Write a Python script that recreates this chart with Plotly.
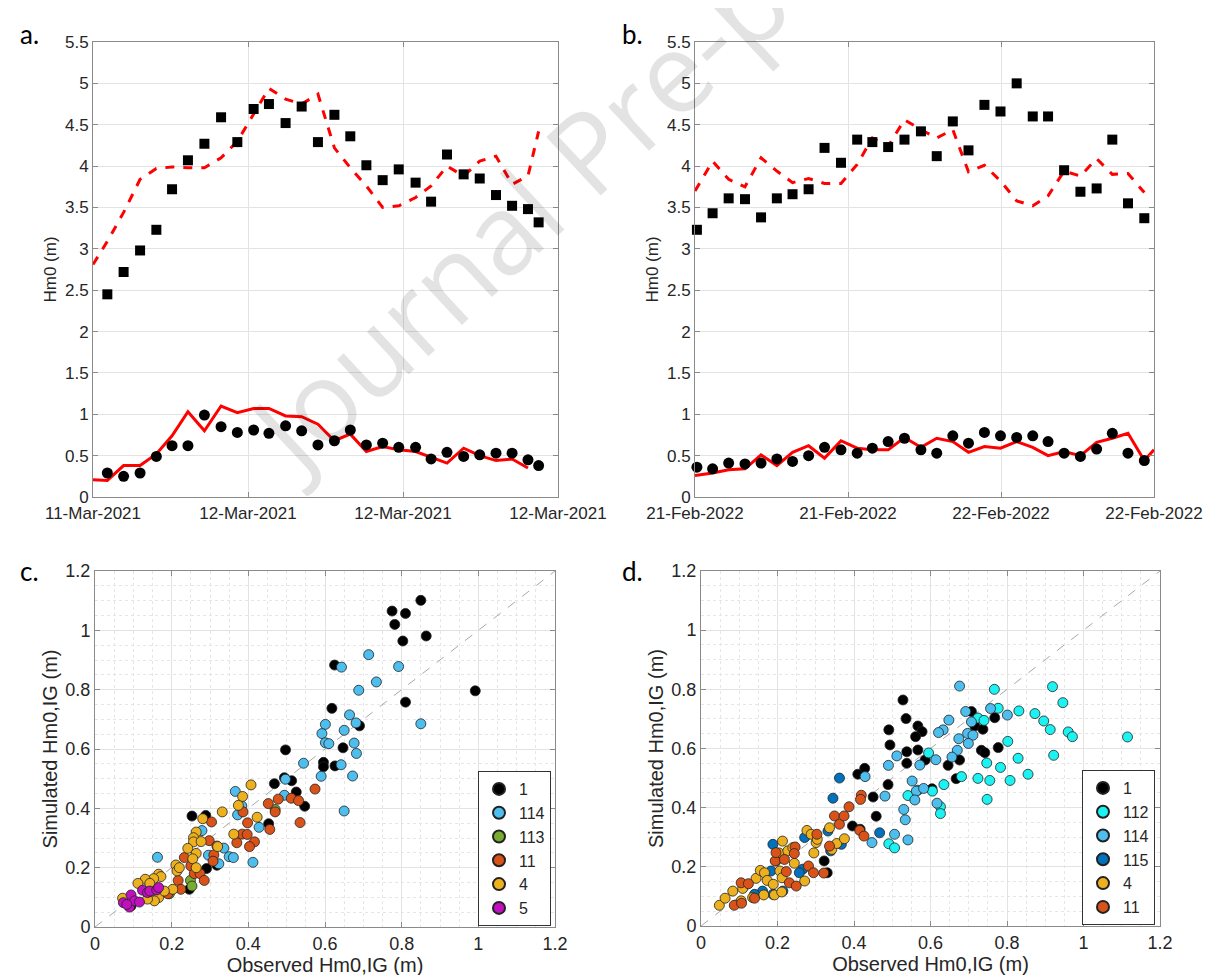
import plotly.graph_objects as go

# ---------------- Panel a (11/12-Mar-2021), hours since 11-Mar-2021 16:00 ----------------
a_tick_vals = [0, 8, 16, 24]
a_tick_text = ["11-Mar-2021", "12-Mar-2021", "12-Mar-2021", "12-Mar-2021"]
a_obs_t = [0.74, 1.58, 2.43, 3.27, 4.08, 4.90, 5.75, 6.61, 7.45, 8.29, 9.08, 9.94, 10.77, 11.61,
           12.46, 13.28, 14.11, 14.95, 15.78, 16.65, 17.45, 18.27, 19.13, 19.96, 20.80, 21.63, 22.45, 23.00]
a_obs_ss = [2.45, 2.72, 2.98, 3.23, 3.72, 4.07, 4.27, 4.59, 4.29, 4.69, 4.75, 4.52, 4.72, 4.29,
            4.62, 4.36, 4.01, 3.83, 3.96, 3.80, 3.57, 4.14, 3.90, 3.85, 3.65, 3.52, 3.48, 3.32]
a_obs_ig = [0.29, 0.25, 0.29, 0.49, 0.62, 0.62, 0.99, 0.85, 0.78, 0.81, 0.77, 0.86, 0.80, 0.63,
            0.68, 0.81, 0.63, 0.65, 0.60, 0.60, 0.46, 0.54, 0.49, 0.51, 0.53, 0.53, 0.45, 0.38]
a_mod_t = [0.0] + a_obs_t
a_mod_ss = [2.81, 3.09, 3.44, 3.84, 3.97, 3.99, 3.98, 3.98, 4.10, 4.30, 4.63, 4.94, 4.81, 4.75,
            4.87, 4.22, 3.98, 3.76, 3.50, 3.52, 3.62, 3.76, 4.00, 3.88, 4.06, 4.12, 3.78, 3.88, 4.42]
a_mod_ig = [0.21, 0.20, 0.38, 0.38, 0.52, 0.74, 1.03, 0.80, 1.10, 1.02, 1.07, 1.07, 0.98, 0.97,
            0.88, 0.68, 0.76, 0.55, 0.61, 0.57, 0.55, 0.48, 0.41, 0.59, 0.50, 0.44, 0.46, 0.35]

# ---------------- Panel b (21/22-Feb-2022), hours since 21-Feb-2022 00:00 ----------------
b_tick_vals = [0, 12, 24, 36]
b_tick_text = ["21-Feb-2022", "21-Feb-2022", "22-Feb-2022", "22-Feb-2022"]
b_obs_t = [0.15, 1.38, 2.64, 3.92, 5.18, 6.42, 7.65, 8.91, 10.16, 11.45, 12.72, 13.91, 15.15, 16.43,
           17.72, 18.96, 20.22, 21.45, 22.70, 23.96, 25.23, 26.49, 27.69, 28.95, 30.23, 31.50, 32.73,
           33.96, 35.24]
b_obs_ss = [3.23, 3.43, 3.61, 3.60, 3.38, 3.61, 3.66, 3.72, 4.22, 4.04, 4.32, 4.29, 4.23, 4.32,
            4.42, 4.12, 4.54, 4.19, 4.74, 4.66, 5.00, 4.60, 4.60, 3.95, 3.69, 3.73, 4.32, 3.55, 3.37]
b_obs_ig = [0.36, 0.34, 0.41, 0.40, 0.41, 0.46, 0.43, 0.50, 0.60, 0.57, 0.53, 0.59, 0.67, 0.71,
            0.57, 0.53, 0.74, 0.65, 0.78, 0.74, 0.72, 0.74, 0.67, 0.53, 0.49, 0.58, 0.77, 0.53, 0.44]
b_mod_t = [0.0] + b_obs_t[1:]
b_mod_ss = [3.70, 4.06, 3.84, 3.75, 4.10, 3.94, 3.80, 3.85, 3.79, 3.79, 4.02, 4.34, 4.24, 4.56,
            4.44, 4.34, 4.44, 3.93, 4.01, 3.82, 3.58, 3.52, 3.64, 3.94, 3.88, 4.09, 3.90, 3.91, 3.68]
b_mod_ig_t = b_mod_t + [36.0]
b_mod_ig = [0.26, 0.29, 0.33, 0.34, 0.51, 0.38, 0.54, 0.62, 0.47, 0.68, 0.59, 0.57, 0.57, 0.72,
            0.60, 0.71, 0.67, 0.54, 0.61, 0.59, 0.67, 0.60, 0.50, 0.55, 0.50, 0.66, 0.71, 0.77, 0.44, 0.57]

# ---------------- Panel c scatter: observed vs simulated Hm0,IG ----------------
c_groups = ["1", "114", "113", "11", "4", "5"]
c_obs = {
    "1": [0.850, 0.775, 0.810, 0.782, 0.864, 0.803, 0.625, 0.992, 0.810, 0.618, 0.690, 0.497, 0.647,
          0.596, 0.596, 0.626, 0.494, 0.513, 0.468, 0.525, 0.547, 0.453, 0.253, 0.289, 0.291, 0.318,
          0.246, 0.094],
    "114": [0.643, 0.714, 0.792, 0.734, 0.688, 0.850, 0.664, 0.681, 0.601, 0.592, 0.650, 0.601, 0.610,
            0.676, 0.682, 0.544, 0.642, 0.590, 0.672, 0.497, 0.494, 0.650, 0.366, 0.383, 0.372, 0.428,
            0.279, 0.336, 0.296, 0.350, 0.361, 0.323, 0.412, 0.163],
    "113": [0.470, 0.249, 0.253, 0.194],
    "11": [0.574, 0.478, 0.512, 0.531, 0.452, 0.470, 0.535, 0.456, 0.386, 0.398, 0.304, 0.384, 0.397,
           0.416, 0.403, 0.370, 0.298, 0.318, 0.310, 0.308, 0.233, 0.250, 0.259, 0.274, 0.285, 0.217,
           0.224, 0.190],
    "4": [0.407, 0.385, 0.374, 0.332, 0.281, 0.423, 0.362, 0.264, 0.257, 0.257, 0.277, 0.320, 0.242,
          0.264, 0.255, 0.264, 0.211, 0.214, 0.220, 0.166, 0.172, 0.153, 0.131, 0.112, 0.143, 0.203,
          0.157, 0.166, 0.155, 0.137, 0.072, 0.181],
    "5": [0.074, 0.094, 0.090, 0.103, 0.116, 0.124, 0.137, 0.143, 0.161, 0.166, 0.083],
}
c_sim = {
    "1": [1.101, 1.065, 1.057, 1.020, 0.981, 0.964, 0.883, 0.796, 0.758, 0.737, 0.678, 0.597, 0.604,
          0.555, 0.540, 0.543, 0.503, 0.493, 0.483, 0.455, 0.407, 0.348, 0.374, 0.376, 0.197, 0.208,
          0.127, 0.071],
    "114": [0.876, 0.918, 0.878, 0.826, 0.798, 0.685, 0.715, 0.688, 0.683, 0.652, 0.663, 0.621, 0.618,
            0.620, 0.585, 0.552, 0.547, 0.508, 0.509, 0.498, 0.444, 0.391, 0.457, 0.408, 0.378, 0.336,
            0.325, 0.266, 0.242, 0.237, 0.234, 0.213, 0.218, 0.235],
    "113": [0.396, 0.157, 0.138, 0.112],
    "11": [0.465, 0.431, 0.434, 0.426, 0.416, 0.388, 0.352, 0.329, 0.388, 0.351, 0.354, 0.313, 0.312,
           0.287, 0.271, 0.284, 0.291, 0.273, 0.243, 0.222, 0.234, 0.206, 0.180, 0.180, 0.157, 0.157,
           0.127, 0.112],
    "4": [0.479, 0.440, 0.410, 0.388, 0.365, 0.370, 0.313, 0.320, 0.301, 0.287, 0.288, 0.271, 0.265,
          0.248, 0.230, 0.200, 0.209, 0.189, 0.200, 0.178, 0.170, 0.163, 0.161, 0.147, 0.147, 0.127,
          0.121, 0.099, 0.088, 0.094, 0.097, 0.121],
    "5": [0.082, 0.108, 0.067, 0.088, 0.084, 0.124, 0.116, 0.121, 0.125, 0.133, 0.076],
}

# ---------------- Panel d scatter ----------------
d_groups = ["1", "112", "114", "115", "4", "11"]
d_obs = {
    "1": [0.528, 0.536, 0.567, 0.578, 0.561, 0.491, 0.494, 0.538, 0.538, 0.567, 0.586, 0.604, 0.646,
          0.676, 0.667, 0.707, 0.716, 0.737, 0.768, 0.733, 0.742, 0.777, 0.428, 0.410, 0.489, 0.450,
          0.458, 0.396, 0.416, 0.322, 0.330],
    "112": [0.767, 0.919, 0.946, 0.777, 0.724, 0.740, 0.831, 0.873, 0.896, 0.913, 0.960, 0.971, 1.115,
            0.595, 0.802, 0.829, 0.783, 0.747, 0.922, 0.855, 0.808, 0.755, 0.724, 0.681, 0.635, 0.605,
            0.567, 0.541, 0.748, 0.626, 0.626, 0.491, 0.506],
    "114": [0.676, 0.692, 0.757, 0.801, 0.648, 0.633, 0.621, 0.707, 0.697, 0.711, 0.699, 0.674, 0.670,
            0.656, 0.614, 0.512, 0.490, 0.572, 0.552, 0.563, 0.582, 0.559, 0.481, 0.429, 0.530, 0.534,
            0.541, 0.506, 0.447, 0.617],
    "115": [0.362, 0.345, 0.467, 0.188, 0.332, 0.339, 0.367, 0.271, 0.266, 0.257, 0.183, 0.196, 0.161,
            0.140, 0.188, 0.214],
    "4": [0.048, 0.063, 0.083, 0.105, 0.109, 0.135, 0.144, 0.155, 0.166, 0.173, 0.164, 0.192, 0.211,
          0.189, 0.206, 0.212, 0.204, 0.213, 0.227, 0.240, 0.244, 0.271, 0.277, 0.288, 0.301, 0.295,
          0.304, 0.336, 0.342, 0.355, 0.375],
    "11": [0.087, 0.106, 0.105, 0.124, 0.140, 0.194, 0.196, 0.218, 0.223, 0.231, 0.249, 0.246, 0.244,
           0.281, 0.294, 0.303, 0.321, 0.349, 0.362, 0.374, 0.387, 0.419, 0.417, 0.415, 0.426, 0.336],
}
d_sim = {
    "1": [0.764, 0.701, 0.676, 0.657, 0.640, 0.663, 0.612, 0.589, 0.550, 0.595, 0.561, 0.464, 0.543,
          0.561, 0.498, 0.725, 0.676, 0.665, 0.704, 0.594, 0.586, 0.603, 0.533, 0.513, 0.478, 0.436,
          0.371, 0.338, 0.327, 0.220, 0.180],
    "112": [0.800, 0.809, 0.755, 0.736, 0.703, 0.695, 0.727, 0.718, 0.693, 0.664, 0.656, 0.640, 0.639,
            0.585, 0.624, 0.567, 0.536, 0.551, 0.577, 0.513, 0.492, 0.492, 0.499, 0.505, 0.478, 0.456,
            0.459, 0.441, 0.428, 0.403, 0.380, 0.278, 0.264],
    "114": [0.811, 0.725, 0.735, 0.713, 0.696, 0.663, 0.654, 0.690, 0.651, 0.645, 0.617, 0.633, 0.594,
            0.571, 0.562, 0.575, 0.543, 0.544, 0.490, 0.456, 0.465, 0.426, 0.439, 0.505, 0.394, 0.359,
            0.291, 0.310, 0.282, 0.415],
    "115": [0.500, 0.432, 0.315, 0.276, 0.321, 0.254, 0.276, 0.299, 0.192, 0.180, 0.186, 0.220, 0.118,
            0.107, 0.107, 0.118],
    "4": [0.070, 0.094, 0.118, 0.085, 0.127, 0.096, 0.161, 0.188, 0.180, 0.154, 0.105, 0.105, 0.115,
          0.141, 0.186, 0.163, 0.247, 0.287, 0.254, 0.265, 0.212, 0.152, 0.323, 0.310, 0.282, 0.247,
          0.293, 0.332, 0.259, 0.279, 0.295],
    "11": [0.070, 0.077, 0.146, 0.143, 0.094, 0.220, 0.248, 0.225, 0.184, 0.146, 0.135, 0.267, 0.245,
           0.203, 0.180, 0.310, 0.179, 0.372, 0.344, 0.372, 0.403, 0.442, 0.428, 0.323, 0.304, 0.270],
}

group_colors = {"1": "#000000", "114": "#4DBEEE", "113": "#77AC30", "11": "#D95319",
                "4": "#EDB120", "5": "#C010C0", "112": "#1CF2F2", "115": "#0072BD"}

W, H = 1217, 975
def px(x0, x1):
    return [x0 / W, x1 / W]
def py(top, bottom):
    return [1 - bottom / H, 1 - top / H]

FONT = "Liberation Sans, Arial, sans-serif"
TXT = "#262626"
GRID = "#e3e3e3"
AXL = "#8a8a8a"

fig = go.Figure()

red = "#FF0000"
# panel a
fig.add_trace(go.Scatter(x=a_mod_t, y=a_mod_ss, mode="lines", line=dict(color=red, width=3, dash="dash"),
                         xaxis="x", yaxis="y", showlegend=False))
fig.add_trace(go.Scatter(x=a_mod_t[:len(a_mod_ig)], y=a_mod_ig, mode="lines", line=dict(color=red, width=3),
                         xaxis="x", yaxis="y", showlegend=False))
fig.add_trace(go.Scatter(x=a_obs_t, y=a_obs_ss, mode="markers", marker=dict(symbol="square", size=10, color="black"),
                         xaxis="x", yaxis="y", showlegend=False, cliponaxis=False))
fig.add_trace(go.Scatter(x=a_obs_t, y=a_obs_ig, mode="markers", marker=dict(symbol="circle", size=11, color="black"),
                         xaxis="x", yaxis="y", showlegend=False, cliponaxis=False))
# panel b
fig.add_trace(go.Scatter(x=b_mod_t, y=b_mod_ss, mode="lines", line=dict(color=red, width=3, dash="dash"),
                         xaxis="x2", yaxis="y2", showlegend=False))
fig.add_trace(go.Scatter(x=b_mod_ig_t, y=b_mod_ig, mode="lines", line=dict(color=red, width=3),
                         xaxis="x2", yaxis="y2", showlegend=False))
fig.add_trace(go.Scatter(x=b_obs_t, y=b_obs_ss, mode="markers", marker=dict(symbol="square", size=10, color="black"),
                         xaxis="x2", yaxis="y2", showlegend=False, cliponaxis=False))
fig.add_trace(go.Scatter(x=b_obs_t, y=b_obs_ig, mode="markers", marker=dict(symbol="circle", size=11, color="black"),
                         xaxis="x2", yaxis="y2", showlegend=False, cliponaxis=False))

# 1:1 lines
diag = [0, 1.2]
for xa, ya in (("x3", "y3"), ("x4", "y4")):
    fig.add_trace(go.Scatter(x=diag, y=diag, mode="lines", line=dict(color="#a8a8a8", width=1, dash="dash"),
                             xaxis=xa, yaxis=ya, showlegend=False, hoverinfo="skip"))

for g in c_groups:
    fig.add_trace(go.Scatter(x=c_obs[g], y=c_sim[g], mode="markers", name=g,
                             marker=dict(size=10, color=group_colors[g], line=dict(color="#222222", width=0.8)),
                             xaxis="x3", yaxis="y3", legend="legend", cliponaxis=False))
for g in d_groups:
    fig.add_trace(go.Scatter(x=d_obs[g], y=d_sim[g], mode="markers", name=g,
                             marker=dict(size=10, color=group_colors[g], line=dict(color="#222222", width=0.8)),
                             xaxis="x4", yaxis="y4", legend="legend2", cliponaxis=False))

def axis_common(**kw):
    d = dict(showline=True, linecolor=AXL, linewidth=1, mirror="ticks", ticks="inside", ticklen=5,
             tickcolor=AXL, showgrid=True, gridcolor=GRID, gridwidth=1, zeroline=False, automargin=False,
             tickfont=dict(family=FONT, size=17, color=TXT))
    d.update(kw)
    return d

minor = dict(dtick=0.05, showgrid=True, gridcolor="#e6e6e6", griddash="dot", gridwidth=1, ticks="")

fig.update_layout(
    width=W, height=H, margin=dict(l=0, r=0, t=0, b=0, autoexpand=False),
    paper_bgcolor="white", plot_bgcolor="white",
    font=dict(family=FONT, color=TXT),
    xaxis=axis_common(domain=px(85, 550), anchor="y", range=[0, 24], tickvals=a_tick_vals, ticktext=a_tick_text,
                      ticklabelstandoff=1),
    yaxis=axis_common(domain=py(34, 489), anchor="x", range=[0, 5.5], dtick=0.5,
                      title=dict(text="Hm0 (m)", font=dict(family=FONT, size=17, color=TXT), standoff=4)),
    xaxis2=axis_common(domain=px(687, 1146), anchor="y2", range=[0, 36], tickvals=b_tick_vals, ticktext=b_tick_text,
                       ticklabelstandoff=1),
    yaxis2=axis_common(domain=py(34, 489), anchor="x2", range=[0, 5.5], dtick=0.5,
                       title=dict(text="Hm0 (m)", font=dict(family=FONT, size=17, color=TXT), standoff=4)),
    xaxis3=axis_common(domain=px(87, 547), anchor="y3", range=[0, 1.2], dtick=0.2, minor=minor,
                       tickfont=dict(family=FONT, size=18, color=TXT),
                       title=dict(text="Observed Hm0,IG (m)", font=dict(family=FONT, size=20, color=TXT), standoff=0)),
    yaxis3=axis_common(domain=py(563, 919), anchor="x3", range=[0, 1.2], dtick=0.2, minor=minor,
                       tickfont=dict(family=FONT, size=18, color=TXT),
                       title=dict(text="Simulated Hm0,IG (m)", font=dict(family=FONT, size=20, color=TXT), standoff=2)),
    xaxis4=axis_common(domain=px(693, 1152), anchor="y4", range=[0, 1.2], dtick=0.2, minor=minor,
                       tickfont=dict(family=FONT, size=18, color=TXT),
                       title=dict(text="Observed Hm0,IG (m)", font=dict(family=FONT, size=20, color=TXT), standoff=0)),
    yaxis4=axis_common(domain=py(563, 918), anchor="x4", range=[0, 1.2], dtick=0.2, minor=minor,
                       tickfont=dict(family=FONT, size=18, color=TXT),
                       title=dict(text="Simulated Hm0,IG (m)", font=dict(family=FONT, size=20, color=TXT), standoff=2)),
    legend=dict(x=543 / W, y=1 - 918 / H, xanchor="right", yanchor="bottom", bgcolor="white",
                bordercolor="#333333", borderwidth=1, font=dict(family=FONT, size=16, color=TXT),
                tracegroupgap=0, itemsizing="constant", itemwidth=30),
    legend2=dict(x=1147 / W, y=1 - 917 / H, xanchor="right", yanchor="bottom", bgcolor="white",
                 bordercolor="#333333", borderwidth=1, font=dict(family=FONT, size=16, color=TXT),
                 tracegroupgap=0, itemsizing="constant", itemwidth=30),
)

labels = [("a.", 10, 8), ("b.", 612, 8), ("c.", 10, 545), ("d.", 612, 545)]
for t, x0, y0 in labels:
    fig.add_annotation(text=t, x=x0 / W, y=1 - y0 / H, xref="paper", yref="paper", xanchor="left", yanchor="top",
                       showarrow=False, font=dict(family="Lato, Open Sans, sans-serif", size=26, color="black"))

fig.add_annotation(text="Journal Pre-proof", x=589 / W, y=1 - 131 / H, xref="paper", yref="paper",
                   xanchor="center", yanchor="middle", showarrow=False, textangle=-43,
                   font=dict(family="Open Sans, sans-serif", size=112, color="rgba(0,0,0,0.11)"))

fig.write_html("out.html")
